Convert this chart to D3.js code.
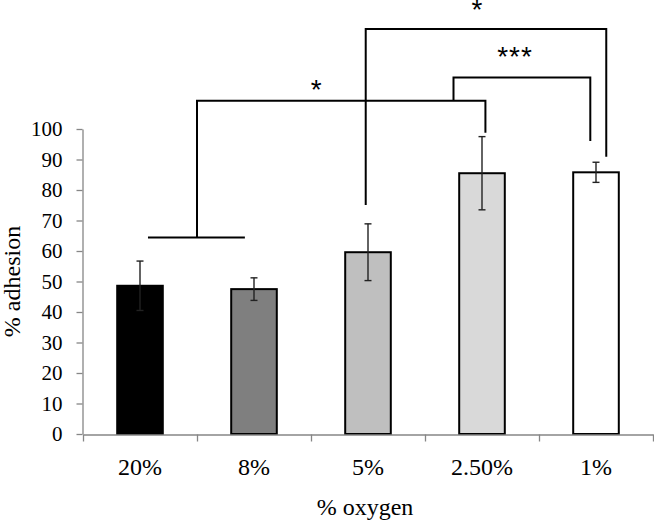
<!DOCTYPE html>
<html>
<head>
<meta charset="utf-8">
<script src="https://cdn.jsdelivr.net/npm/d3@7/dist/d3.min.js"></script>
<style>
  html, body { margin: 0; padding: 0; background: #fff; }
  svg { display: block; }
</style>
</head>
<body>
<svg id="chart" width="654" height="522"></svg>
<script>
// ---- data ----
const categories = ["20%", "8%", "5%", "2.50%", "1%"];
const adhesion = [48.6, 47.5, 59.6, 85.5, 85.8];
const errors = [8.1, 3.7, 9.3, 12.0, 3.3];
const barColors = ["#000000", "#7f7f7f", "#bfbfbf", "#d9d9d9", "#ffffff"];
const yTicks = [0, 10, 20, 30, 40, 50, 60, 70, 80, 90, 100];
// significance brackets: polylines in (category index, % adhesion) space
const bracketLines = [
  [[0.07, 64.4], [0.92, 64.4]],
  [[0.5, 64.4], [0.5, 109.3], [3.03, 109.3], [3.03, 98.8]],
  [[2.75, 109.3], [2.75, 116.9], [3.95, 116.9], [3.95, 96.1]],
  [[1.98, 75.1], [1.98, 132.8], [4.09, 132.8], [4.09, 90.9]]
];
const starLabels = ["*", "***", "*"];
const starIndex = [1.55, 3.29, 2.96];
const starValue = [109.8, 120.7, 136.0];

const SERIF = "'Liberation Serif', 'Times New Roman', 'DejaVu Serif', serif";
const SANS = "'Liberation Sans', Arial, sans-serif";

// ---- layout ----
const svg = d3.select("#chart");
const mLeft = 83, mRight = 653, mTop = 129, mBottom = 434;

const x = d3.scaleBand().domain(categories).range([mLeft, mRight])
  .paddingInner(0.6).paddingOuter(0.3);
const xi = d3.scaleLinear().domain([0, categories.length]).range([mLeft, mRight]);
const xc = d3.scaleLinear().domain([0, 1]).range([x(categories[0]) + x.bandwidth() / 2, x(categories[1]) + x.bandwidth() / 2]);
const y = d3.scaleLinear().domain([0, 100]).range([mBottom, mTop]);

// y axis
const yAxis = svg.append("g").attr("transform", `translate(${mLeft - 0.5},0)`)
  .call(d3.axisLeft(y).tickValues(yTicks).tickSize(6).tickSizeOuter(0).tickPadding(14));
yAxis.attr("font-family", null).attr("font-size", null);
yAxis.select(".domain").attr("stroke", "#868686").attr("stroke-width", 1.3);
yAxis.selectAll(".tick line").attr("stroke", "#868686").attr("stroke-width", 1.3);
yAxis.selectAll(".tick text")
  .attr("font-family", SERIF).attr("font-size", 21).attr("fill", "#000");

// bars
svg.append("g").selectAll("rect").data(categories).join("rect")
  .attr("x", d => x(d))
  .attr("y", (d, i) => y(adhesion[i]))
  .attr("width", x.bandwidth())
  .attr("height", (d, i) => y(0) - y(adhesion[i]))
  .attr("fill", (d, i) => barColors[i])
  .attr("stroke", "#000")
  .attr("stroke-width", 2);

// x axis (boundary ticks)
const xAxis = svg.append("g").attr("transform", `translate(0,${mBottom + 0.5})`)
  .call(d3.axisBottom(xi).tickValues(d3.range(categories.length + 1)).tickFormat("").tickSize(7).tickSizeOuter(0));
xAxis.select(".domain").attr("stroke", "#868686").attr("stroke-width", 1.3);
xAxis.selectAll(".tick line").attr("stroke", "#868686").attr("stroke-width", 1.3);

// category labels
svg.append("g").selectAll("text").data(categories).join("text")
  .attr("x", d => x(d) + x.bandwidth() / 2)
  .attr("y", 475)
  .attr("text-anchor", "middle")
  .attr("font-family", SERIF)
  .attr("font-size", 24)
  .attr("fill", "#000")
  .text(d => d);

// error bars
const eb = svg.append("g").attr("stroke", "#222").attr("stroke-width", 1.4);
categories.forEach((c, i) => {
  const cx = x(c) + x.bandwidth() / 2;
  const y1 = y(adhesion[i] + errors[i]), y2 = y(adhesion[i] - errors[i]);
  eb.append("line").attr("x1", cx).attr("x2", cx).attr("y1", y1).attr("y2", y2);
  eb.append("line").attr("x1", cx - 3.5).attr("x2", cx + 3.5).attr("y1", y1).attr("y2", y1);
  eb.append("line").attr("x1", cx - 3.5).attr("x2", cx + 3.5).attr("y1", y2).attr("y2", y2);
});

// significance brackets
const line = d3.line().x(p => xc(p[0])).y(p => y(p[1]));
svg.append("g").selectAll("path").data(bracketLines).join("path")
  .attr("d", line)
  .attr("fill", "none")
  .attr("stroke", "#000")
  .attr("stroke-width", 2);

svg.append("g").selectAll("text").data(starLabels).join("text")
  .attr("x", (d, i) => xc(starIndex[i]))
  .attr("y", (d, i) => y(starValue[i]))
  .attr("text-anchor", "middle")
  .attr("font-family", SANS)
  .attr("font-size", 28)
  .attr("letter-spacing", 1)
  .attr("fill", "#000")
  .text(d => d);

// axis titles
svg.append("text")
  .attr("transform", `translate(20,${(mTop + mBottom) / 2}) rotate(-90)`)
  .attr("text-anchor", "middle")
  .attr("font-family", SERIF)
  .attr("font-size", 24)
  .attr("fill", "#000")
  .text("% adhesion");

svg.append("text")
  .attr("x", (mLeft + mRight) / 2 - 3)
  .attr("y", 515)
  .attr("text-anchor", "middle")
  .attr("font-family", SERIF)
  .attr("font-size", 24)
  .attr("fill", "#000")
  .text("% oxygen");
</script>
</body>
</html>
